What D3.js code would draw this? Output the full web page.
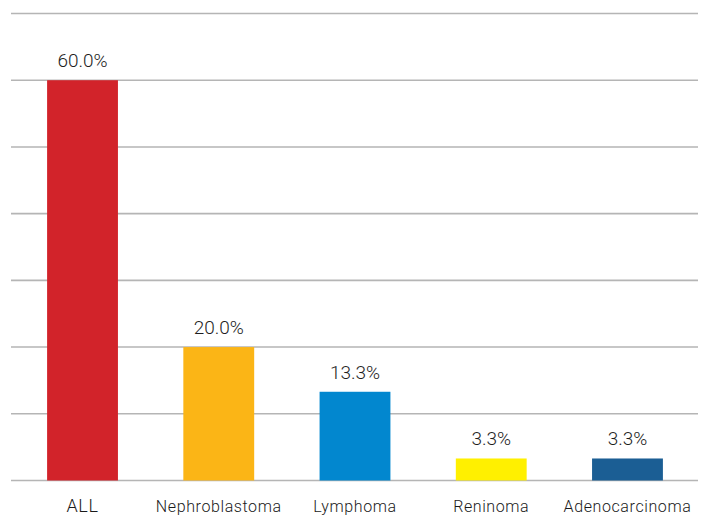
<!DOCTYPE html>
<html>
<head>
<meta charset="utf-8">
<script src="https://cdn.jsdelivr.net/npm/d3@7"></script>
<style>
  body { margin: 0; background: #fff; }
  svg { display: block; }
</style>
</head>
<body>
<div id="chart"></div>
<script>
// data
const categories = ["ALL", "Nephroblastoma", "Lymphoma", "Reninoma", "Adenocarcinoma"];
const values = [60.0, 20.0, 13.3, 3.3, 3.3];
const barColors = ["#d2232a", "#fbb516", "#0287cf", "#fff000", "#1b5e94"];
const gridTicks = [0, 10, 20, 30, 40, 50, 60, 70];

const width = 709, height = 518;

let svg = d3.select("#chart")
    .append("svg")
    .attr("width", width)
    .attr("height", height);

let x = d3.scaleBand()
    .domain(categories)
    .range([14.4, 695.6])
    .paddingInner(0.48)
    .paddingOuter(0.24);

let y = d3.scaleLinear()
    .domain([0, 70])
    .range([480.5, 13.5]);

// gridlines
svg.append("g")
    .selectAll("line")
    .data(gridTicks)
    .enter()
    .append("line")
    .attr("x1", 11)
    .attr("x2", 698)
    .attr("y1", d => y(d))
    .attr("y2", d => y(d))
    .attr("stroke", "#b5b5b5")
    .attr("stroke-width", 1.6);

let data = categories.map((c, i) => ({ name: c, value: values[i], color: barColors[i] }));

// bars
svg.append("g")
    .selectAll("rect")
    .data(data)
    .enter()
    .append("rect")
    .attr("x", d => x(d.name))
    .attr("width", x.bandwidth())
    .attr("y", d => y(d.value))
    .attr("height", d => y(0) - y(d.value))
    .attr("fill", d => d.color);

// value labels
svg.append("g")
    .selectAll("text")
    .data(data)
    .enter()
    .append("text")
    .attr("x", d => x(d.name) + x.bandwidth() / 2)
    .attr("y", d => y(d.value) - 13)
    .attr("text-anchor", "middle")
    .style("font-family", "Roboto, sans-serif")
    .style("font-weight", 300)
    .style("font-size", "19px")
    .style("fill", "#1e1e1e")
    .text(d => d.value.toFixed(1) + "%");

// category labels
svg.append("g")
    .selectAll("text")
    .data(data)
    .enter()
    .append("text")
    .attr("x", d => x(d.name) + x.bandwidth() / 2)
    .attr("y", 512)
    .attr("text-anchor", "middle")
    .style("font-family", "Roboto, sans-serif")
    .style("font-weight", 300)
    .style("font-size", d => d.name == "ALL" ? "18px" : "16px")
    .style("letter-spacing", "0.6px")
    .style("fill", "#1a1a1a")
    .text(d => d.name);
</script>
</body>
</html>
